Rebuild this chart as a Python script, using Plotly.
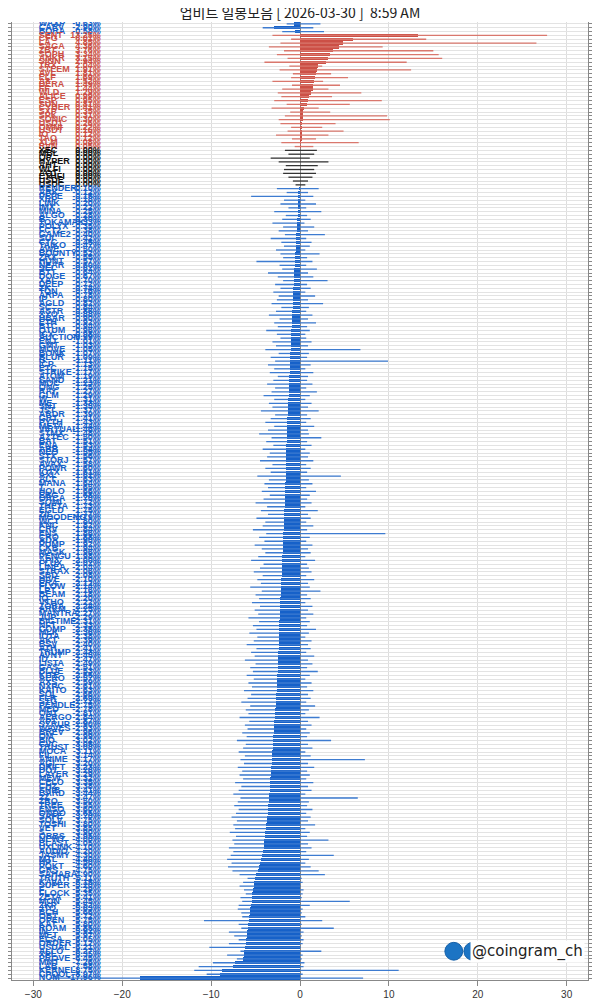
import plotly.graph_objects as go

top_names = ["WAXP", "CARV", "BORA"]
top_close = [-0.63, -2.90, -0.58]
top_low = [-1.5, -4.2, -2.0]
top_high = [2.3, 1.5, 2.7]

red_names = ["SENT","CFG","LA","SAGA","ZBT","SOPH","ANKR","SIGN","TRX","STEEM",
             "AVL","ELF","A8","BERA","FF","WLD","ALICE","ESP","SUN","CYBER",
             "SXP","SPK","SONIC","USD1","OMNI","USDT","IO","TAO","XLM","RVN"]
red_close = [13.25,6.01,4.85,4.36,3.76,3.34,3.15,2.94,2.04,1.91,
             1.81,1.69,1.52,1.49,1.44,1.29,0.99,0.95,0.81,0.41,
             0.35,0.31,0.30,0.26,0.22,0.16,0.12,0.12,0.08,0.05]
red_high = [27.8,14.2,26.6,9.3,15.0,15.6,16.0,12.0,2.5,12.5,
            3.5,5.4,2.6,4.5,3.2,6.9,3.6,9.2,5.6,2.1,
            3.4,9.8,10.1,4.0,2.5,4.9,3.2,1.8,6.6,1.5]
red_low = [-3.1,-1.0,-2.2,-3.5,-1.8,-2.6,-1.4,-4.0,-1.2,-2.3,
           -0.8,-1.0,-3.1,-0.9,-2.0,-2.5,-2.1,-2.9,-1.5,-3.2,
           -1.1,-1.7,-2.4,-2.2,-1.0,-1.4,-2.7,-0.9,-2.1,-0.6]

black_names = ["XEC","MBL","OP","HYPER","AHT","WLFI","AQT","ETHFI","USDE","USDC"]
black_close = [0.0]*10
black_high = [1.9,1.6,1.1,3.2,2.0,1.6,1.8,1.4,0.9,0.6]
black_low = [-1.7,-1.3,-3.3,-2.4,-1.6,-1.8,-1.9,-1.3,-0.8,-0.5]

blue_names = [
 "RENDER","ARK","PEPE","XRP","LINK","IMX","MINA","ALGO","B","TOKAMAK",
 "POLYX","FCT2","GAME2","SUI","CTC","TAIKO","AWE","BOUNTY","ZRX","HUNT",
 "NEAR","SEI","BTT","DOGE","XAI","DEEP","ZK","TON","ARPA","IP",
 "AGLD","SC","ASTR","XYO","HBAR","ETH","BTC","QTUM","ICX","AUCTION",
 "ENJ","GMT","MOVE","BONK","BLUR","G","ICP","ETC","STRIKE","ATOM",
 "SAND","MOC","ONG","RAY","GLM","W","ME","SNT","JST","ARDR",
 "GRT","PYTH","META","VIRTUAL","STMX","AZTEC","BAT","ENA","ARB","NEO",
 "STX","STORJ","AVAX","POWR","IOTX","AXL","ALT","MANA","T","HOLO",
 "ERG","ORCA","SOMI","THETA","EGLD","ZIL","MOODENG","WCT","KNC","CRV",
 "ENS","CRO","ADA","PUMP","CKB","MASK","PENGU","API3","FLUX","LINEA",
 "STRAX","SBD","HIVE","ERA","FLOW","LPT","BEAM","IQ","VTHO","ZORA",
 "ARKM","MANTRA","JUP","BIGTIME","NFT","COMP","MLK","IOTA","AKT","BSV",
 "ATH","TRUMP","AVNT","ID","LISTA","GAS","BLUE","KITE","AERO","AXS",
 "NXPC","KAITO","SOL","FLR","STG","PENDLE","MED","ONT","AERGO","APT",
 "SYRUP","WAVES","BREV","OM","BIO","CVC","TRUST","MOCA","FIL","ANIME",
 "AGI","DRIFT","DOT","LAYER","MEW","CELO","CHZ","SHIB","BARD","2Z",
 "ZRO","TREE","ENSO","ONDO","SAFE","SOLV","TOSHI","VET","S","ORBS",
 "NEWT","BLAST","UXLINK","AUDIO","JASMY","MTL","HP","POKT","GRS","SAHARA",
 "TRUTH","KAVA","SUPER","F","FLOCK","ZETA","MON","ZKP","JTO","BCH",
 "OBT","OPEN","KAT","ROAM","IN","MET","ELSA","ORDER","USUAL","ALLO",
 "XPL","PROVE","MMT","LAB","KERNEL","CPOOL","NOM"]
blue_close = [
 -0.10,-0.12,-0.15,-0.18,-0.20,-0.22,-0.25,-0.28,-0.30,-0.33,
 -0.35,-0.38,-0.40,-0.42,-0.45,-0.47,-0.50,-0.52,-0.55,-0.57,
 -0.60,-0.62,-0.64,-0.67,-0.70,-0.72,-0.74,-0.76,-0.78,-0.80,
 -0.82,-0.84,-0.86,-0.88,-0.90,-0.92,-0.94,-0.96,-0.98,-0.99,
 -1.01,-1.03,-1.05,-1.07,-1.09,-1.11,-1.13,-1.15,-1.17,-1.19,
 -1.21,-1.23,-1.25,-1.27,-1.29,-1.31,-1.33,-1.35,-1.37,-1.39,
 -1.41,-1.43,-1.44,-1.46,-1.48,-1.50,-1.51,-1.53,-1.54,-1.55,
 -1.56,-1.57,-1.58,-1.60,-1.61,-1.62,-1.63,-1.64,-1.65,-1.66,
 -1.68,-1.70,-1.72,-1.73,-1.75,-1.77,-1.79,-1.80,-1.82,-1.84,
 -1.86,-1.88,-1.90,-1.92,-1.94,-1.96,-1.98,-2.00,-2.02,-2.04,
 -2.06,-2.08,-2.10,-2.12,-2.14,-2.16,-2.18,-2.20,-2.22,-2.24,
 -2.25,-2.27,-2.29,-2.31,-2.33,-2.35,-2.36,-2.38,-2.39,-2.40,
 -2.41,-2.43,-2.45,-2.47,-2.49,-2.51,-2.53,-2.55,-2.57,-2.59,
 -2.61,-2.63,-2.66,-2.69,-2.72,-2.75,-2.78,-2.81,-2.84,-2.87,
 -2.90,-2.93,-2.96,-2.99,-3.02,-3.05,-3.08,-3.11,-3.14,-3.17,
 -3.20,-3.23,-3.26,-3.29,-3.32,-3.35,-3.38,-3.41,-3.44,-3.47,
 -3.50,-3.55,-3.60,-3.65,-3.70,-3.75,-3.80,-3.85,-3.90,-3.95,
 -4.00,-4.05,-4.10,-4.20,-4.30,-4.40,-4.50,-4.60,-4.75,-4.90,
 -5.11,-5.15,-5.20,-5.29,-5.35,-5.41,-5.45,-5.52,-5.63,-5.66,
 -5.72,-5.75,-5.80,-5.85,-5.92,-5.97,-6.05,-6.12,-6.21,-6.27,
 -6.35,-6.45,-7.26,-7.58,-8.75,-8.97,-17.96]
blue_low = [
 -2.6,-1.5,-5.5,-1.8,-2.2,-1.3,-2.9,-1.6,-2.0,-3.1,
 -1.9,-2.4,-1.7,-3.3,-2.1,-1.8,-2.7,-2.2,-1.9,-4.9,
 -2.3,-2.0,-3.6,-2.5,-1.9,-2.8,-2.2,-3.0,-2.4,-2.6,
 -3.2,-2.1,-2.7,-3.5,-2.3,-2.9,-2.5,-3.8,-2.6,-2.2,
 -3.1,-2.7,-3.9,-2.4,-3.3,-2.8,-3.6,-2.9,-3.4,-2.5,
 -3.0,-3.7,-2.8,-3.2,-4.1,-2.9,-3.5,-3.1,-4.4,-2.8,
 -3.3,-3.9,-2.9,-3.6,-4.6,-3.2,-3.8,-3.0,-4.2,-3.4,
 -3.7,-4.5,-3.1,-3.9,-3.3,-4.8,-3.5,-4.0,-3.6,-4.3,
 -3.4,-4.1,-5.0,-3.7,-4.4,-3.6,-4.9,-3.9,-4.2,-5.3,
 -3.8,-4.6,-4.0,-5.1,-4.3,-3.9,-4.7,-5.5,-4.1,-4.5,
 -5.2,-4.2,-4.8,-4.4,-5.6,-4.3,-5.0,-4.6,-5.4,-4.5,
 -5.1,-4.7,-5.8,-4.6,-5.3,-4.9,-5.7,-4.8,-5.2,-6.0,
 -4.9,-5.5,-5.1,-6.2,-5.0,-5.6,-5.3,-6.0,-5.2,-5.8,
 -5.4,-6.3,-5.5,-5.9,-6.6,-5.6,-6.1,-5.8,-6.8,-5.7,
 -6.2,-5.9,-6.5,-6.0,-7.1,-6.1,-6.4,-6.9,-6.2,-6.7,
 -6.3,-7.0,-6.5,-6.8,-6.4,-7.3,-6.6,-6.9,-7.5,-6.7,
 -7.0,-7.4,-6.9,-7.2,-7.7,-7.1,-7.5,-7.3,-7.9,-7.2,
 -7.6,-7.4,-8.0,-7.5,-7.8,-8.2,-7.7,-8.1,-7.6,-6.8,
 -5.9,-6.4,-6.8,-6.3,-6.1,-6.7,-6.5,-6.9,-7.0,-6.6,
 -6.5,-10.8,-6.9,-6.6,-8.0,-7.4,-6.9,-8.0,-10.2,-6.7,
 -8.2,-7.1,-9.8,-11.4,-11.9,-10.5,-28.2]
blue_high = [
 2.1,0.9,1.5,0.6,1.8,0.7,2.4,0.8,1.2,0.5,
 1.6,0.9,2.8,0.7,1.3,1.1,0.6,2.2,0.8,1.4,
 0.7,1.9,0.9,1.5,3.1,0.8,1.2,0.6,1.7,0.9,
 2.6,1.0,0.7,1.4,0.9,1.8,0.8,1.1,0.6,0.7,
 1.3,0.9,6.8,1.0,0.8,9.9,1.2,0.6,1.5,0.9,
 0.8,1.4,0.7,1.9,1.1,0.6,1.3,0.9,2.1,0.8,
 1.2,0.7,1.6,0.9,1.0,2.4,0.8,1.3,0.6,1.1,
 0.9,1.5,0.7,1.2,0.8,4.6,1.0,1.4,0.7,1.8,
 1.1,0.8,1.3,0.6,2.0,0.9,1.2,0.7,1.5,0.8,
 9.6,1.1,0.7,1.4,0.9,1.2,0.6,1.7,0.8,1.0,
 1.3,0.7,1.6,0.9,1.1,2.3,0.8,1.2,0.6,1.4,
 0.9,1.5,0.7,1.1,0.8,1.8,1.0,0.6,1.3,0.9,
 1.2,0.7,1.6,0.9,1.4,0.8,2.0,1.1,0.6,1.3,
 0.8,1.5,0.9,1.2,0.7,1.7,1.0,0.6,2.2,0.9,
 1.3,0.7,1.1,0.8,3.5,0.9,1.4,0.6,1.2,7.3,
 0.9,1.6,0.8,1.1,0.7,1.5,0.9,1.3,0.6,6.5,
 1.0,0.8,1.4,0.7,1.2,0.9,1.7,0.6,1.1,0.8,
 3.2,0.9,1.3,0.7,3.8,1.0,0.6,1.2,2.1,2.8,
 0.2,0.3,0.1,0.4,0.3,0.2,5.6,1.1,0.3,0.2,
 0.6,2.5,0.2,3.8,0.4,0.2,0.4,0.3,0.1,2.4,
 0.3,0.2,0.5,0.4,11.1,0.3,7.1]

RED, BLUE, BLACK = "#cc5046", "#1661c9", "#111111"
RED_L, BLUE_L, BLACK_L = "#d9776d", "#3d7bd0", "#333333"

groups = [
    (top_names, top_close, top_low, top_high, BLUE, BLUE_L),
    (red_names, red_close, red_low, red_high, RED, RED_L),
    (black_names, black_close, black_low, black_high, BLACK, BLACK_L),
    (blue_names, blue_close, blue_low, blue_high, BLUE, BLUE_L),
]

fig = go.Figure()
names, closes, ys, bcol, tcol = [], [], [], [], []
idx = 0
for nm, cl, lo, hi, c, cl_line in groups:
    n = min(len(nm), len(cl), len(lo), len(hi))
    lx, ly = [], []
    for i in range(n):
        y = idx + i
        lx += [lo[i], hi[i], None]
        ly += [y, y, None]
        names.append(nm[i]); closes.append(cl[i]); ys.append(y)
        bcol.append(c); tcol.append(c)
    fig.add_trace(go.Scatter(x=lx, y=ly, mode="lines",
                             line=dict(color=cl_line, width=1.3),
                             hoverinfo="skip", showlegend=False))
    idx += n
N = idx

fig.add_trace(go.Bar(x=closes, y=ys, orientation="h", width=0.85,
                     marker=dict(color=bcol, line=dict(width=0)),
                     showlegend=False))
fig.add_trace(go.Scatter(x=[-29.4]*N, y=ys, mode="text", text=names,
                         texttemplate="<b>%{text}</b>",
                         textposition="middle right",
                         textfont=dict(size=9, color=tcol, family="Liberation Sans"),
                         showlegend=False, hoverinfo="skip"))
fig.add_trace(go.Scatter(x=[-22.4]*N, y=ys, mode="text",
                         text=["%.2f%%" % v for v in closes],
                         texttemplate="<b>%{text}</b>",
                         textposition="middle left",
                         textfont=dict(size=9, color=tcol, family="Liberation Sans"),
                         showlegend=False, hoverinfo="skip"))

fig.update_layout(
    width=600, height=1000,
    margin=dict(l=4, r=20, t=14, b=28),
    plot_bgcolor="white", paper_bgcolor="white",
    bargap=0,
    title=dict(text="업비트 일봉모음 [ 2026-03-30 ]  8:59 AM", x=(4 + 288) / 600, y=1.0,
               xanchor="center", yanchor="top", pad=dict(t=0),
               font=dict(size=14, color="#222", family="Noto Sans CJK KR")),
    xaxis=dict(range=[-32.4, 32.4], tickvals=[-30, -20, -10, 0, 10, 20, 30],
               showgrid=True, gridcolor="#dddddd", zeroline=True,
               zerolinecolor="#888888", zerolinewidth=1, automargin=False,
               ticks="outside", ticklen=5, tickcolor="#888",
               tickfont=dict(size=10, color="#333", family="Liberation Sans"),
               showline=True, linecolor="#888"),
    yaxis=dict(range=[N - 0.5, -0.5], dtick=1, tick0=0, showticklabels=False,
               showgrid=True, gridcolor="#e3e3e3", gridwidth=1, automargin=False,
               ticks="outside", ticklen=10, tickcolor="#888",
               mirror="ticks", showline=True, linecolor="#888", zeroline=False),
)

# watermark
wy = 0.03
fig.add_annotation(xref="paper", yref="paper", x=0.995, y=wy,
                   xanchor="right", yanchor="middle", text="@coingram_ch",
                   showarrow=False, bgcolor="white",
                   font=dict(size=15, color="#222", family="DejaVu Sans"))
for cx in [0.767, 0.800]:
    fig.add_shape(type="circle", xref="paper", yref="paper",
                  x0=cx - 0.0155, x1=cx + 0.0155, y0=wy - 0.0093, y1=wy + 0.0093,
                  fillcolor="#1c74c4", line=dict(color="#1560a8", width=1))

fig.write_html("out.html")
